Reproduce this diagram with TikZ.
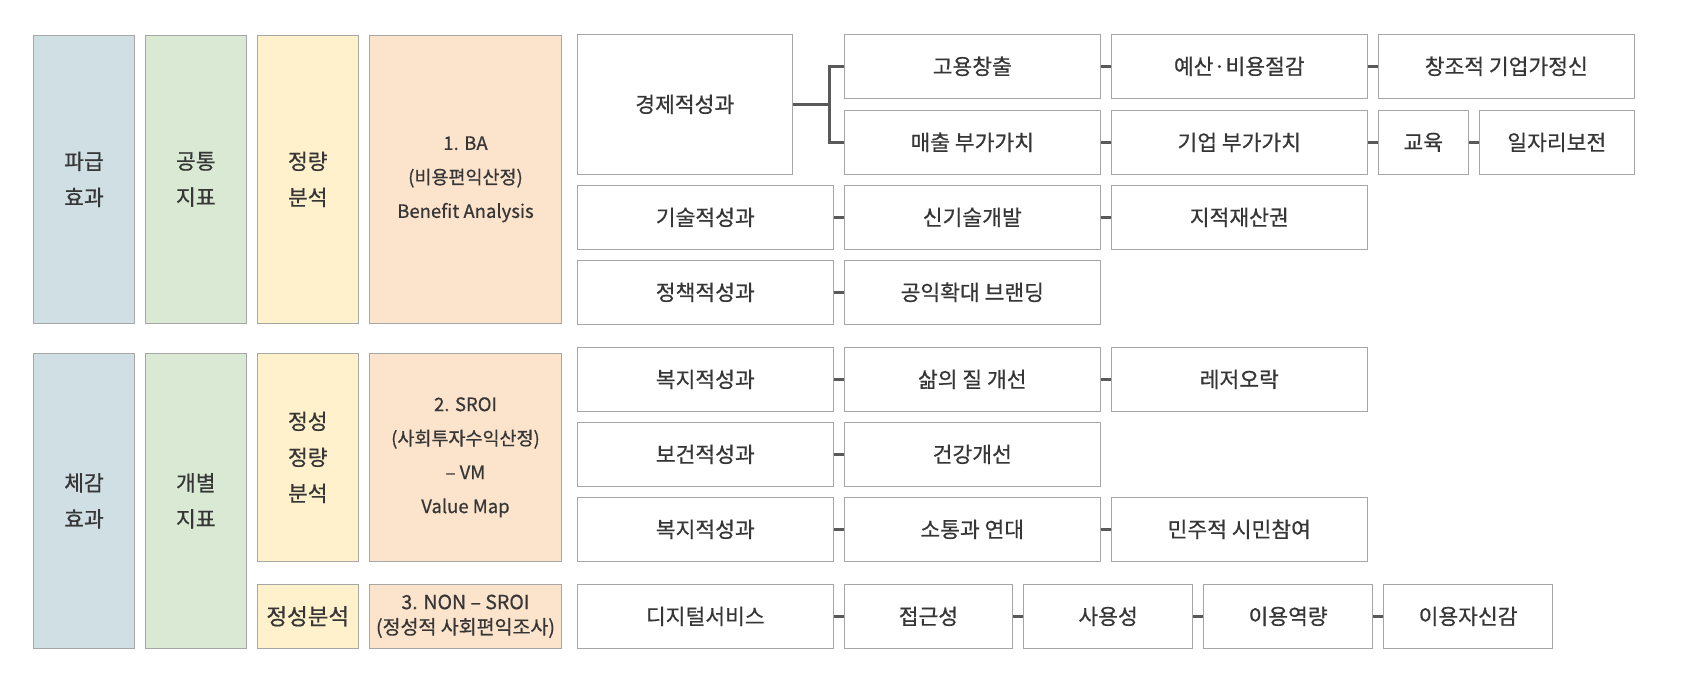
\documentclass[tikz,border=0pt]{standalone}
\usepackage{fontspec}
\setmainfont{Noto Sans CJK KR}[FakeBold=0.6]
\usetikzlibrary{calc}
\definecolor{bd}{HTML}{A6A6A6}
\definecolor{tx}{HTML}{363636}
\definecolor{cn}{HTML}{595959}
\definecolor{fA}{HTML}{D0DFE3}
\definecolor{fB}{HTML}{D9E9D3}
\definecolor{fC}{HTML}{FFF1CC}
\definecolor{fD}{HTML}{FCE3CC}
\newcommand\bx[7]{\node[box,#1,minimum width={(#4-#3)*1pt},minimum height={(#6-#5)*1pt}] (#2) at ({(#3+#4)/2},{(#5+#6)/2}) {#7};}
\begin{document}
\begin{tikzpicture}[x=1pt,y=-1pt,
  box/.style={draw=bd,line width=1.1pt,fill=white,inner sep=0pt,align=center,text=tx,font=\fontsize{21.5}{36}\selectfont},
  sm/.style={font=\fontsize{18.5}{34}\selectfont},
  conn/.style={draw=cn,line width=3pt}]
\useasboundingbox[fill=white] (0,0) rectangle (1690,674);
% left columns, upper block
\bx{fill=fA}{pa}{33.3}{134.7}{35.3}{323.3}{파급\\효과}
\bx{fill=fB}{gt}{145.3}{246.3}{35.3}{323.3}{공통\\지표}
\bx{fill=fC}{jr}{257.3}{358.3}{35.3}{323.3}{정량\\분석}
\bx{fill=fD,sm}{ba}{369.3}{561.7}{35.3}{323.3}{1. BA\\(비용편익산정)\\Benefit Analysis}
% left columns, lower block
\bx{fill=fA}{cg}{33.3}{134.7}{353.3}{648.3}{체감\\효과}
\bx{fill=fB}{gb}{145.3}{246.3}{353.3}{648.3}{개별\\지표}
\bx{fill=fC}{sj}{257.3}{358.3}{353.3}{561.3}{정성\\정량\\분석}
\bx{fill=fD,sm}{sroi}{369.3}{561.7}{353.3}{561.3}{2. SROI\\(사회투자수익산정)\\– VM\\Value Map}
\bx{fill=fC,font=\fontsize{22.5}{36}\selectfont}{sb}{257.3}{358.3}{584.3}{648.3}{정성분석}
\bx{fill=fD,font=\fontsize{19.5}{25}\selectfont}{non}{369.3}{561.7}{584.3}{648.3}{3. NON – SROI\\(정성적 사회편익조사)}
% right, upper
\bx{}{econ}{577.3}{792.3}{34.3}{174.3}{경제적성과}
\bx{}{goyong}{844.3}{1100.3}{34.3}{98.3}{고용창출}
\bx{}{yesan}{1111.3}{1367.3}{34.3}{98.3}{예산·비용절감}
\bx{}{changjo}{1378.3}{1634.3}{34.3}{98.3}{창조적 기업가정신}
\bx{}{maechul}{844.3}{1100.3}{110.3}{174.3}{매출 부가가치}
\bx{}{giup}{1111.3}{1367.3}{110.3}{174.3}{기업 부가가치}
\bx{}{gyoyuk}{1378.3}{1468.3}{110.3}{174.3}{교육}
\bx{}{iljari}{1479.3}{1634.3}{110.3}{174.3}{일자리보전}
\bx{}{gisul}{577.3}{833.3}{185.3}{249.3}{기술적성과}
\bx{}{singisul}{844.3}{1100.3}{185.3}{249.3}{신기술개발}
\bx{}{jijeok}{1111.3}{1367.3}{185.3}{249.3}{지적재산권}
\bx{}{jeongchaek}{577.3}{833.3}{260.3}{324.3}{정책적성과}
\bx{}{gongik}{844.3}{1100.3}{260.3}{324.3}{공익확대 브랜딩}
% right, lower
\bx{}{bokji}{577.3}{833.3}{347.3}{411.3}{복지적성과}
\bx{}{salm}{844.3}{1100.3}{347.3}{411.3}{삶의 질 개선}
\bx{}{leisure}{1111.3}{1367.3}{347.3}{411.3}{레저오락}
\bx{}{bogeon}{577.3}{833.3}{422.3}{486.3}{보건적성과}
\bx{}{geongang}{844.3}{1100.3}{422.3}{486.3}{건강개선}
\bx{}{bokji2}{577.3}{833.3}{497.3}{561.3}{복지적성과}
\bx{}{sotong}{844.3}{1100.3}{497.3}{561.3}{소통과 연대}
\bx{}{minju}{1111.3}{1367.3}{497.3}{561.3}{민주적 시민참여}
\bx{}{digital}{577.3}{833.3}{584.3}{648.3}{디지털서비스}
\bx{}{jeopgeun}{844.3}{1012.7}{584.3}{648.3}{접근성}
\bx{}{sayong}{1023.5}{1192.7}{584.3}{648.3}{사용성}
\bx{}{iyong}{1203.5}{1372.7}{584.3}{648.3}{이용역량}
\bx{}{jasin}{1383.5}{1552.7}{584.3}{648.3}{이용자신감}
% connectors
\draw[conn] (econ.east) -- ++(36.7,0) coordinate (bj);
\draw[conn,line join=miter] (goyong.west) -| (bj) |- (maechul.west);
\draw[conn] (goyong.east) -- (yesan.west);
\draw[conn] (yesan.east) -- (changjo.west);
\draw[conn] (maechul.east) -- (giup.west);
\draw[conn] (giup.east) -- (gyoyuk.west);
\draw[conn] (gyoyuk.east) -- (iljari.west);
\draw[conn] (gisul.east) -- (singisul.west);
\draw[conn] (singisul.east) -- (jijeok.west);
\draw[conn] (jeongchaek.east) -- (gongik.west);
\draw[conn] (bokji.east) -- (salm.west);
\draw[conn] (salm.east) -- (leisure.west);
\draw[conn] (bogeon.east) -- (geongang.west);
\draw[conn] (bokji2.east) -- (sotong.west);
\draw[conn] (sotong.east) -- (minju.west);
\draw[conn] (digital.east) -- (jeopgeun.west);
\draw[conn] (jeopgeun.east) -- (sayong.west);
\draw[conn] (sayong.east) -- (iyong.west);
\draw[conn] (iyong.east) -- (jasin.west);
\end{tikzpicture}
\end{document}
